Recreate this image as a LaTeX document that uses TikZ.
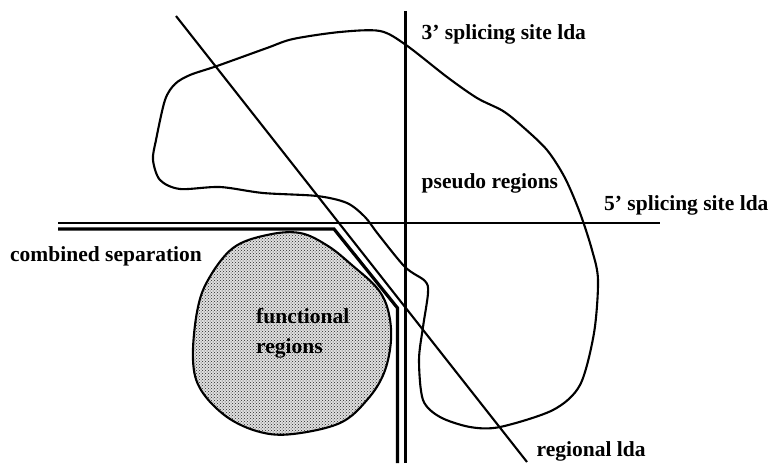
\documentclass[tikz,border=0pt]{standalone}
\usepackage{fontspec}
\setmainfont{Liberation Serif}
\usetikzlibrary{patterns}
\begin{document}
\begin{tikzpicture}[x=1pt,y=-1pt,
  ln/.style={line width=2.1pt, line join=round},
  thk/.style={line width=3.2pt, line join=miter},
  lbl/.style={font=\fontsize{21.5}{30}\selectfont\bfseries, anchor=base west, inner sep=0pt}]
\useasboundingbox (0,0) rectangle (775,465);
% functional regions blob
\path[fill=black!12] plot[smooth cycle, tension=0.6] coordinates {
 (233,248) (267,235) (300,233) (328,246) (353,266) (377,288) (388,310) (391,340)
 (384,373) (367,400) (340,423) (293,434) (260,432) (227,417) (201,390) (193,360)
 (197,312) (208,280)};
\draw[ln, pattern=crosshatch dots, pattern color=black!85] plot[smooth cycle, tension=0.6] coordinates {
 (233,248) (267,235) (300,233) (328,246) (353,266) (377,288) (388,310) (391,340)
 (384,373) (367,400) (340,423) (293,434) (260,432) (227,417) (201,390) (193,360)
 (197,312) (208,280)};
% pseudo regions blob
\draw[ln] plot[smooth cycle, tension=0.5] coordinates {
 (380,31) (406,45) (447,77) (477,98) (503,111) (523,127) (547,150) (565,178)
 (580,213) (592,250) (598,280) (594,333) (580,385) (553,410) (500,427) (470,427)
 (440,417) (423,400) (419,360) (423,327) (428,293) (425,281) (405,267) (378,234)
 (365,217) (347,203) (317,196) (263,193) (220,187) (180,189) (160,180) (153,160)
 (156,140) (165,100) (175,84) (190,75) (217,66) (267,48) (293,39) (340,32)};
% coordinates
\coordinate (rT) at (176,16);
\coordinate (rB) at (527,462);
\coordinate (vT) at (405.5,11);
\coordinate (vB) at (405.5,463);
\coordinate (hL) at (58,223);
\coordinate (hR) at (660,223);
\coordinate (c1) at (58,229);
\coordinate (c2) at (334,229);
\coordinate (c3) at (397.5,308);
\coordinate (c4) at (397.5,463);
% lines
\draw[ln] (rT) -- (rB);
\draw[ln] (vT) -- (vB);
\draw[ln] (hL) -- (hR);
\draw[thk] (c1) -- (c2) -- (c3) -- (c4);
% labels
\node[lbl] (t3) at (421.5,39.5) {3’ splicing site lda};
\node[lbl] (tp) at (421.5,188.5) {pseudo regions};
\node[lbl] (t5) at (604,210.5) {5’ splicing site lda};
\node[lbl] (tc) at (10,261.5) {combined separation};
\node[lbl] (tr) at (536.5,456) {regional lda};
\node[lbl, align=left, anchor=north west, font=\fontsize{21.5}{30}\selectfont\bfseries] (tf) at (256,308) {functional\\regions};
\end{tikzpicture}
\end{document}
